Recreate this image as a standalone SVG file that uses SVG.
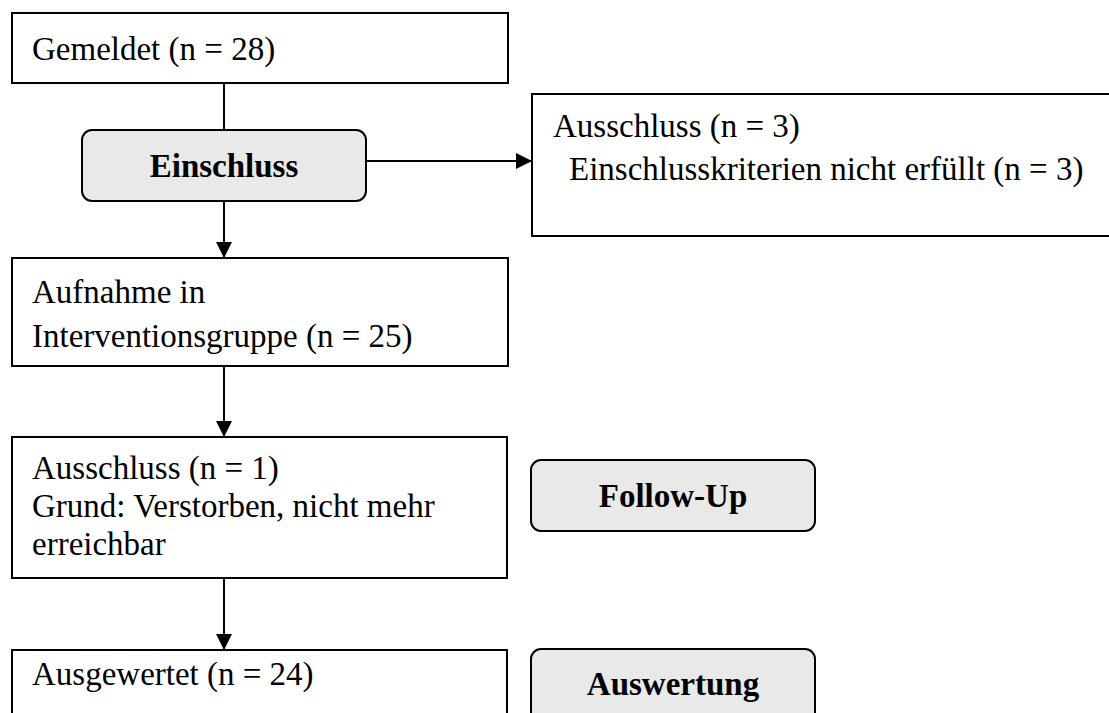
<svg xmlns="http://www.w3.org/2000/svg" width="1109" height="713" viewBox="0 0 1109 713">
<style>
.box{fill:#fff;stroke:#000;stroke-width:2}
.rbox{fill:#e9e9e9;stroke:#000;stroke-width:2}
.t{font-family:"Liberation Serif",serif;font-size:33px;fill:#000}
.b{font-family:"Liberation Serif",serif;font-size:33px;font-weight:bold;fill:#000;text-anchor:middle}
.c{stroke:#000;stroke-width:2;fill:none}
</style>
<defs>
<marker id="ah" markerUnits="userSpaceOnUse" markerWidth="16" markerHeight="16" refX="16" refY="8" orient="auto">
<path d="M0,0 L16,8 L0,16 z" fill="#000"/>
</marker>
</defs>
<g id="connectors">
<line class="c" x1="224" y1="83" x2="224" y2="130"/>
<line class="c" x1="224" y1="201" x2="224" y2="258" marker-end="url(#ah)"/>
<line class="c" x1="366" y1="161" x2="532" y2="161" marker-end="url(#ah)"/>
<line class="c" x1="224" y1="366" x2="224" y2="437" marker-end="url(#ah)"/>
<line class="c" x1="224" y1="578" x2="224" y2="650" marker-end="url(#ah)"/>
</g>
<g id="gemeldet">
<rect class="box" x="12" y="13" width="496" height="70"/>
<text class="t" x="32" y="60">Gemeldet (n = 28)</text>
</g>
<g id="einschluss">
<rect class="rbox" x="82" y="130" width="284" height="71" rx="10"/>
<text class="b" x="224" y="177">Einschluss</text>
</g>
<g id="ausschluss3">
<rect class="box" x="532" y="94" width="600" height="142"/>
<text class="t" x="553" y="137">Ausschluss (n = 3)</text>
<text class="t" x="569" y="180">Einschlusskriterien nicht erfüllt (n = 3)</text>
</g>
<g id="aufnahme">
<rect class="box" x="12" y="258" width="496" height="108"/>
<text class="t" x="32" y="303">Aufnahme in</text>
<text class="t" x="32" y="347">Interventionsgruppe (n = 25)</text>
</g>
<g id="ausschluss1">
<rect class="box" x="12" y="437" width="495" height="141"/>
<text class="t" x="32" y="479">Ausschluss (n = 1)</text>
<text class="t" x="32" y="517">Grund: Verstorben, nicht mehr</text>
<text class="t" x="32" y="555">erreichbar</text>
</g>
<g id="followup">
<rect class="rbox" x="531" y="460" width="284" height="71" rx="10"/>
<text class="b" x="673" y="507">Follow-Up</text>
</g>
<g id="ausgewertet">
<rect class="box" x="12" y="650" width="495" height="90"/>
<text class="t" x="32" y="685">Ausgewertet (n = 24)</text>
</g>
<g id="auswertung">
<rect class="rbox" x="531" y="649" width="284" height="90" rx="10"/>
<text class="b" x="673" y="695">Auswertung</text>
</g>
</svg>
